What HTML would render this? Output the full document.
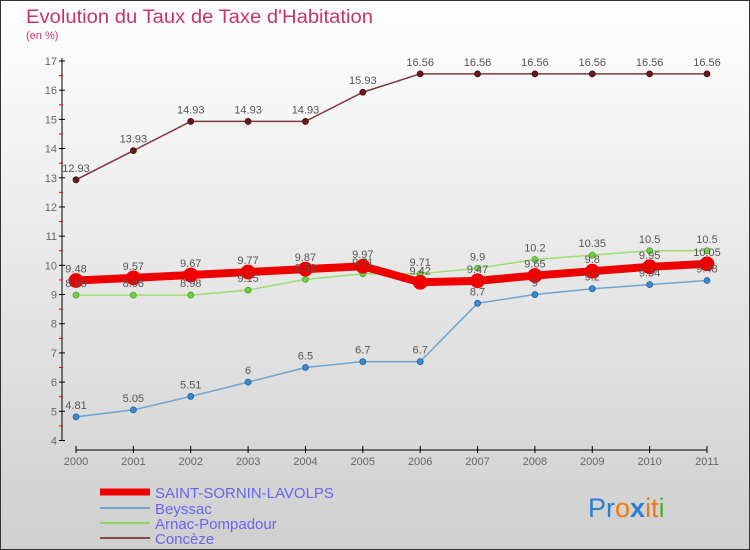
<!DOCTYPE html>
<html><head><meta charset="utf-8"><style>
body{margin:0}
svg{display:block;font-family:"Liberation Sans",sans-serif}
</style></head><body>
<svg id="c" width="750" height="550">
<defs><linearGradient id="bg" x1="0" y1="0" x2="0" y2="1"><stop offset="0" stop-color="#ffffff"/><stop offset="1" stop-color="#cfcfcf"/></linearGradient></defs>
<rect x="0.5" y="0.5" width="749" height="549" fill="url(#bg)" stroke="#333"/>
<text x="26" y="23" font-size="19" fill="#c8336a" textLength="347" lengthAdjust="spacingAndGlyphs">Evolution du Taux de Taxe d'Habitation</text>
<text x="26" y="39" font-size="11" fill="#c8336a">(en %)</text>
<g id="axes"></g><g id="series"></g><g id="labels"></g>
<g font-size="15" fill="#6666ee">
<line x1="100" y1="492" x2="150" y2="492" stroke="#e00" stroke-width="7"/>
<text x="155" y="498">SAINT-SORNIN-LAVOLPS</text>
<line x1="100" y1="508" x2="150" y2="508" stroke="#6fa4d0" stroke-width="2"/>
<text x="155" y="514">Beyssac</text>
<line x1="100" y1="523" x2="150" y2="523" stroke="#8fd860" stroke-width="2"/>
<text x="155" y="529">Arnac-Pompadour</text>
<line x1="100" y1="538" x2="150" y2="538" stroke="#8a4a4a" stroke-width="2"/>
<text x="155" y="544">Concèze</text>
</g>
<text x="588" y="517" font-size="27"><tspan fill="#2a7fd0">Pr</tspan><tspan fill="#f07a10">o</tspan><tspan fill="#2a7fd0" font-weight="bold">x</tspan><tspan fill="#f07a10">it</tspan><tspan fill="#50b030">i</tspan></text>
</svg>
<script>
const years=[2000,2001,2002,2003,2004,2005,2006,2007,2008,2009,2010,2011];
const saint=[9.48,9.57,9.67,9.77,9.87,9.97,9.42,9.47,9.65,9.8,9.95,10.05];
const beyssac=[4.81,5.05,5.51,6,6.5,6.7,6.7,8.7,9,9.2,9.34,9.48];
const arnac=[8.98,8.98,8.98,9.15,9.52,9.71,9.71,9.9,10.2,10.35,10.5,10.5];
const conceze=[12.93,13.93,14.93,14.93,14.93,15.93,16.56,16.56,16.56,16.56,16.56,16.56];
const yTicks=[4,5,6,7,8,9,10,11,12,13,14,15,16,17];
const NS='http://www.w3.org/2000/svg';
const X=i=>76+i*(707-76)/(years.length-1);
const Y=v=>440.5-(v-4)*(440.5-61)/13;
function mk(t,a,p){const e=document.createElementNS(NS,t);for(const k in a)e.setAttribute(k,a[k]);p.appendChild(e);return e;}
const ax=document.getElementById('axes'),se=document.getElementById('series'),lb=document.getElementById('labels');
const ya=mk('line',{x1:62,y1:58,x2:62,y2:441,stroke:'#000'},ax);


yTicks.forEach(v=>{
 mk('line',{x1:59,y1:Y(v),x2:65,y2:Y(v),stroke:'#000'},ax);
 if(v<17)mk('line',{x1:59,y1:Y(v+0.5),x2:63,y2:Y(v+0.5),stroke:'#e00'},ax);
 const t=mk('text',{x:57,y:Y(v)+4,'font-size':11,fill:'#666','text-anchor':'end'},ax);t.textContent=v;
 
 
});
const xa=mk('line',{x1:76,y1:450,x2:707,y2:450,stroke:'#000'},ax);


years.forEach((y,i)=>{
 mk('line',{x1:X(i),y1:446,x2:X(i),y2:453,stroke:'#000'},ax);
 const t=mk('text',{x:X(i),y:465,'font-size':11,fill:'#666','text-anchor':'middle'},ax);t.textContent=y;
 
 
});
function draw(data,name,color,w,r,dot,stroke){
 const pts=data.map((v,i)=>X(i)+','+Y(v)).join(' ');
 const pl=mk('polyline',{points:pts,fill:'none',stroke:color,'stroke-width':w},se);
 
 
 data.forEach((v,i)=>{
  const c=mk('circle',{cx:X(i),cy:Y(v),r:r,fill:dot,stroke:stroke,'stroke-width':0.8},se);
  
  
  const t=mk('text',{x:X(i),y:Y(v)-8,'font-size':11,fill:'#555','text-anchor':'middle'},lb);t.textContent=v;
  
  
 });
}
draw(conceze,'conceze','#7a3a3a',1.5,3,'#6a1a1a','#4a0a0a');
draw(beyssac,'beyssac','#6fa4d0',1.5,3,'#3a8ad0','#2060a0');
draw(arnac,'arnac','#9ade70',1.5,3,'#70d040','#50a030');
draw(saint,'saint-sornin','#ee0000',8,7,'#ee0000','#ee0000');
</script>
</body></html>
